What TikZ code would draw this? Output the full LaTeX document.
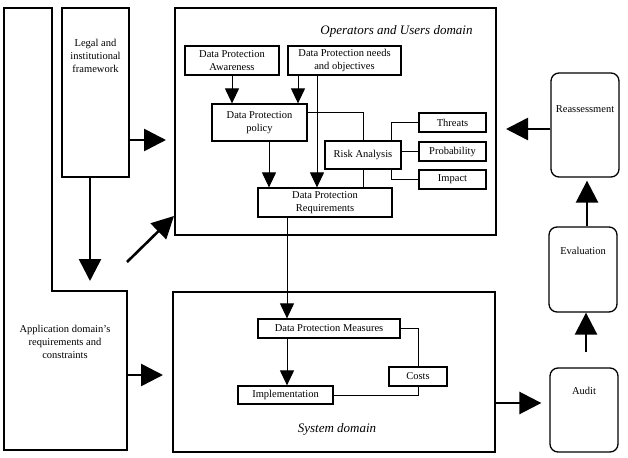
\documentclass[tikz,border=0pt]{standalone}
\usepackage{fontspec}
\setmainfont{Liberation Serif}
\usetikzlibrary{arrows.meta,calc}
\begin{document}
\begin{tikzpicture}[x=1pt,y=-1pt,
  every node/.style={font=\fontsize{10.5}{12.8}\selectfont, align=center, inner sep=0pt},
  bigbox/.style={draw, line width=2pt},
  smallbox/.style={draw, line width=1.2pt},
  roundbox/.style={draw, line width=1.3pt, rounded corners=8pt},
  txt/.style={},
  title/.style={font=\fontsize{13}{15}\selectfont\itshape},
  thin/.style={line width=1pt},
  thinarrow/.style={line width=1pt, -{Triangle[length=15pt,width=14pt]}},
  thickarrow/.style={line width=2.6pt, -{Triangle[length=22pt,width=22pt]}}
]
\useasboundingbox (0,0) rectangle (628,457);
\fill[white] (0,0) rectangle (628,457);

% Application domain L-shape
\draw[line width=2pt] (4,8) -- (52,8) -- (52,291) -- (127,291) -- (127,450) -- (4,450) -- cycle;
\node[txt] (app) at (65,342) {Application domain's\\requirements and\\constraints};
\coordinate (appR) at (127,375);
\coordinate (appD) at (127,262);

% Legal framework
\node[bigbox, minimum width=67pt, minimum height=169pt] (legal) at (95.5,92.5) {};
\node[txt] (legalt) at (95.5,56) {Legal and\\institutional\\framework};

% Operators and users domain
\node[bigbox, minimum width=321pt, minimum height=227pt] (ops) at (335.5,121.5) {};
\node[title] (opst) at (396.5,31) {Operators and Users domain};

\node[smallbox, minimum width=94pt, minimum height=29pt] (aware) at (232,60.5) {Data Protection\\Awareness};
\node[smallbox, minimum width=113pt, minimum height=29pt] (needs) at (344.5,60.5) {Data Protection needs\\and objectives};
\node[smallbox, minimum width=95pt, minimum height=37pt] (policy) at (259.5,122.5) {Data Protection\\policy};
\node[smallbox, minimum width=134pt, minimum height=29pt] (req) at (325,202.5) {Data Protection\\Requirements};
\node[smallbox, minimum width=76pt, minimum height=28pt] (risk) at (363,155) {Risk Analysis};
\node[smallbox, minimum width=67pt, minimum height=19pt] (threats) at (452.5,122.5) {Threats};
\node[smallbox, minimum width=67pt, minimum height=19pt] (prob) at (452.5,151.5) {Probability};
\node[smallbox, minimum width=67pt, minimum height=19pt] (impact) at (452.5,179.5) {Impact};

% System domain
\node[bigbox, minimum width=322pt, minimum height=160pt] (sys) at (334,372) {};
\node[title] (syst) at (337,429) {System domain};
\node[smallbox, minimum width=142pt, minimum height=19pt] (dpm) at (329,328.5) {Data Protection Measures};
\node[smallbox, minimum width=95pt, minimum height=18pt] (impl) at (285.5,395) {Implementation};
\node[smallbox, minimum width=58pt, minimum height=19pt] (costs) at (418,376.5) {Costs};

% Right column
\node[roundbox, minimum width=68pt, minimum height=104pt] (reass) at (585,125) {};
\node[txt] (reasst) at (585,109) {Reassessment};
\node[roundbox, minimum width=68pt, minimum height=85pt] (eval) at (583,269.5) {};
\node[txt] (evalt) at (583,251) {Evaluation};
\node[roundbox, minimum width=68pt, minimum height=84pt] (audit) at (584,410) {};
\node[txt] (auditt) at (584,391) {Audit};

% Thick arrows
\coordinate (legalDown) at (90,281);
\draw[thickarrow, shorten >=8pt] (legal.east |- 0,140) -- (ops.west |- 0,140);
\draw[thickarrow] (legal.south -| legalDown) -- (legalDown);
\coordinate (opsCorner) at (174,216);
\draw[thickarrow] (appD) -- (opsCorner);
\draw[thickarrow, shorten >=9pt] (appR) -- (sys.west |- appR);
\draw[thickarrow, shorten >=8pt] (sys.east |- 0,403) -- (audit.west |- 0,403);
\draw[thickarrow] ($(audit.north)+(2,-15)$) -- (eval.south -| 586,0);
\draw[thickarrow, shorten >=3pt] (eval.north -| 587,0) -- (reass.south -| 587,0);
\draw[thickarrow, shorten >=9pt] (reass.west |- 0,129) -- (ops.east |- 0,129);

% Thin arrows
\draw[thinarrow] (aware.south) -- (policy.north -| aware.south);
\draw[thinarrow] (needs.south -| 298,0) -- (policy.north -| 298,0);
\draw[thinarrow] (needs.south -| 317,0) -- (req.north -| 317,0);
\draw[thinarrow] (policy.south -| 269,0) -- (req.north -| 269,0);
\draw[thinarrow] (req.south -| 287,0) -- (dpm.north -| 287,0);
\draw[thinarrow] (dpm.south -| 287,0) -- (impl.north -| 287,0);

% Thin lines
\draw[thin] (policy.east |- 0,113) -| (risk.north);
\draw[thin] (risk.south) -- (req.north -| risk.south);
\draw[thin] (risk.north -| 391,0) |- (threats.west);
\draw[thin] (risk.south -| 391,0) |- (impact.west);
\draw[thin] (risk.east |- prob.west) -- (prob.west);
\draw[thin] (dpm.east) -| (costs.north);
\draw[thin] (costs.south) |- (impl.east);
\end{tikzpicture}
\end{document}
